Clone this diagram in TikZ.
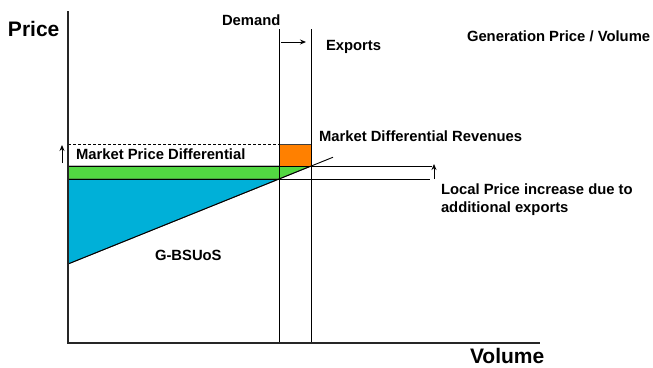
\documentclass[tikz,border=0pt]{standalone}
\usepackage{fontspec}
\setmainfont{Liberation Sans}
\usetikzlibrary{calc,arrows.meta}

\definecolor{mdrorange}{RGB}{255,128,0}
\definecolor{mpdgreen}{RGB}{82,216,66}
\definecolor{bsuosblue}{RGB}{0,176,216}

\tikzset{
  lbl/.style={anchor=base west, font=\fontsize{14.8}{17}\selectfont\bfseries},
  axislbl/.style={anchor=base west, font=\fontsize{21}{25}\selectfont\bfseries},
  thinline/.style={line width=0.9pt},
  axisline/.style={line width=1.3pt, draw=black!85},
  areaedge/.style={line width=0.9pt, draw=black!75},
  smallarrow/.style={line width=0.9pt, -{Stealth[length=6pt,width=5pt]}},
}

\begin{document}
\begin{tikzpicture}[x=1pt,y=-1pt,inner sep=0pt,outer sep=0pt]
    \useasboundingbox (0,0) rectangle (653,367);

    % key points
    \coordinate (origin) at (68,343);
    \coordinate (ytop) at (68,11);
    \coordinate (xend) at (540,343);
    \coordinate (dem_top) at (279,29);
    \coordinate (dem_bot) at (279,343);
    \coordinate (exp_top) at (311,29);
    \coordinate (exp_bot) at (311,343);
    \coordinate (sup_start) at (68,264);
    \coordinate (sup_dem) at (279,179);
    \coordinate (sup_exp) at (311,166);
    \coordinate (sup_end) at ($(sup_start)!1.256!(sup_dem)$);

    % areas
    \filldraw[fill=bsuosblue, areaedge] (68,179) -- (sup_dem) -- (sup_start) -- cycle;
    \filldraw[fill=mpdgreen, areaedge] (68,166) -- (sup_exp) -- (sup_dem) -- (68,179) -- cycle;
    \filldraw[fill=mdrorange, areaedge] (279,144) rectangle (sup_exp);

    % price levels
    \coordinate (old_end) at (430,179);
    \coordinate (new_end) at (432,166);
    \draw[thinline] (68,179) -- (old_end);
    \draw[thinline] (68,166) -- (new_end);
    \draw[thinline, dash pattern=on 3pt off 2pt] (68,144) -- (279,144);

    % demand and exports
    \draw[thinline] (dem_top) -- (dem_bot);
    \draw[thinline] (exp_top) -- (exp_bot);
    \draw[smallarrow] (281,42) -- (306,42);

    % supply curve
    \draw[thinline] (sup_start) -- (sup_end);

    % axes
    \draw[axisline] (ytop) -- (origin) -- (xend);

    % increase arrows
    \draw[smallarrow] (62,163) -- (62,145);
    \draw[smallarrow] (434,179) -- (434,164);

    % labels
    \node[axislbl] (price) at (8,36) {Price};
    \node[axislbl] (volume) at (470,363) {Volume};
    \node[lbl] (demand) at (222,25) {Demand};
    \node[lbl] (exports) at (326,50) {Exports};
    \node[lbl] (gen_title) at (467,41) {Generation Price / Volume};
    \node[lbl] (mdr) at (319,141) {Market Differential Revenues};
    \node[lbl] (mpd) at (76,159) {Market Price Differential};
    \node[lbl] (local_1) at (441,194) {Local Price increase due to};
    \node[lbl] (local_2) at (441,212) {additional exports};
    \node[lbl] (gbsuos) at (155,260) {G-BSUoS};

\end{tikzpicture}
\end{document}
